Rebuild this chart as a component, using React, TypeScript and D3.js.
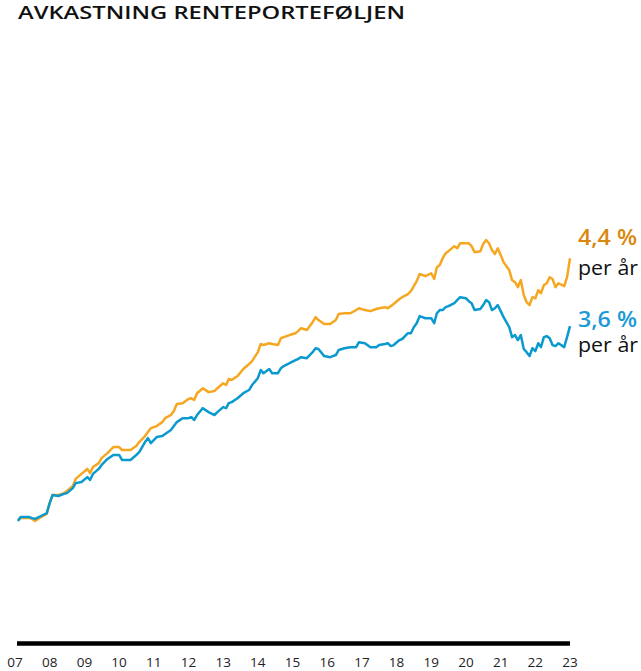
import React from "react";
import * as d3 from "d3";

const dates = [
  "2007-02", "2007-03", "2007-06", "2007-07", "2007-08", "2007-10", "2007-12", "2008-01", "2008-02", "2008-04",
  "2008-06", "2008-07", "2008-09", "2008-10", "2008-12", "2009-02", "2009-03", "2009-04", "2009-06", "2009-07",
  "2009-09", "2009-11", "2010-01", "2010-02", "2010-05", "2010-07", "2010-08", "2010-10", "2010-11", "2010-12",
  "2011-02", "2011-04", "2011-05", "2011-07", "2011-08", "2011-09", "2011-11", "2012-01", "2012-02", "2012-03",
  "2012-04", "2012-06", "2012-08", "2012-10", "2012-11", "2013-01", "2013-02", "2013-03", "2013-04", "2013-06",
  "2013-08", "2013-10", "2013-11", "2014-01", "2014-02", "2014-03", "2014-05", "2014-06", "2014-08", "2014-09",
  "2014-10", "2014-12", "2015-02", "2015-03", "2015-04", "2015-06", "2015-08", "2015-09", "2015-10", "2015-12",
  "2016-02", "2016-04", "2016-05", "2016-07", "2016-09", "2016-11", "2016-12", "2017-02", "2017-04", "2017-06",
  "2017-07", "2017-09", "2017-10", "2017-11", "2017-12", "2018-02", "2018-03", "2018-05", "2018-06", "2018-07",
  "2018-08", "2018-09", "2018-11", "2019-01", "2019-02", "2019-03", "2019-04", "2019-05", "2019-06", "2019-07",
  "2019-09", "2019-10", "2019-11", "2020-01", "2020-02", "2020-03", "2020-04", "2020-06", "2020-07", "2020-08",
  "2020-09", "2020-10", "2020-11", "2020-12", "2021-01", "2021-02", "2021-04", "2021-05", "2021-06", "2021-07",
  "2021-08", "2021-09", "2021-10", "2021-11", "2021-12", "2022-01", "2022-02", "2022-03", "2022-04", "2022-05",
  "2022-06", "2022-07", "2022-08", "2022-09", "2022-11", "2022-12", "2023-01",
];

const benchmarkIndex = [
  100.4, 101.1, 101.1, 100.8, 100.0, 101.5, 102.7, 106.8, 109.9, 109.9,
  110.6, 111.4, 113.3, 116.0, 117.9, 119.8, 118.2, 120.5, 122.0, 123.9,
  125.8, 128.1, 128.1, 127.0, 127.0, 128.5, 130.0, 132.3, 133.8, 135.3,
  136.1, 137.6, 139.1, 140.3, 141.8, 144.5, 144.8, 146.4, 146.7, 146.0,
  148.6, 150.5, 149.0, 149.4, 150.5, 152.4, 151.7, 154.0, 153.6, 155.1,
  157.8, 159.7, 160.8, 164.2, 167.3, 166.9, 167.6, 167.3, 166.9, 169.5,
  169.9, 170.7, 171.4, 172.2, 173.3, 172.6, 175.6, 177.5, 176.4, 174.9,
  174.9, 176.4, 178.7, 179.0, 179.0, 180.2, 180.9, 180.2, 179.8, 180.6,
  180.9, 181.3, 180.9, 181.7, 182.5, 184.4, 185.1, 186.3, 187.4, 189.3,
  191.2, 193.9, 193.1, 194.2, 192.0, 196.5, 197.3, 199.9, 201.8, 202.6,
  204.5, 203.7, 205.6, 205.6, 205.6, 204.5, 202.2, 202.6, 205.3, 206.8,
  205.6, 203.0, 201.5, 203.7, 201.1, 198.4, 195.4, 191.6, 190.8, 188.9,
  191.6, 185.9, 183.2, 182.1, 185.1, 184.7, 187.8, 186.6, 189.7, 190.4,
  192.7, 192.0, 188.9, 190.4, 189.3, 192.7, 199.9,
];

const realIndex = [
  100.0, 101.5, 101.5, 101.1, 100.8, 101.9, 103.0, 106.8, 109.9, 109.5,
  110.3, 110.6, 112.5, 114.4, 114.8, 116.7, 115.6, 117.9, 119.8, 121.3,
  123.6, 125.1, 125.1, 123.2, 123.2, 125.1, 126.2, 130.0, 131.5, 129.6,
  131.9, 132.3, 133.1, 134.6, 136.1, 137.6, 139.1, 139.1, 139.5, 138.4,
  140.3, 142.9, 141.4, 140.3, 141.4, 143.3, 142.9, 144.8, 145.2, 146.7,
  148.6, 149.8, 151.7, 154.3, 157.4, 156.2, 157.8, 156.2, 156.2, 158.1,
  158.9, 160.0, 161.2, 161.6, 162.3, 161.9, 164.2, 165.7, 165.4, 162.7,
  162.3, 163.1, 165.0, 165.7, 166.1, 166.1, 168.0, 167.6, 166.1, 166.1,
  166.9, 167.3, 167.6, 166.5, 166.9, 168.8, 169.2, 171.4, 171.4, 173.7,
  175.2, 177.9, 177.1, 177.1, 175.2, 179.0, 180.2, 180.2, 181.3, 181.7,
  182.8, 184.0, 185.1, 184.7, 183.6, 182.8, 180.2, 180.6, 182.1, 184.0,
  183.2, 180.2, 180.9, 182.1, 179.8, 177.5, 173.7, 169.9, 170.7, 168.8,
  170.7, 165.4, 164.2, 162.7, 165.7, 164.6, 167.6, 166.1, 169.9, 170.3,
  169.5, 166.9, 166.5, 167.6, 166.1, 169.9, 174.1,
];

const tickYears = [2007, 2008, 2009, 2010, 2011, 2012, 2013, 2014, 2015, 2016, 2017, 2018, 2019, 2020, 2021, 2022, 2023];

const title = "AVKASTNING RENTEPORTEFØLJEN";
const benchmarkLabel = "4,4 %";
const realLabel = "3,6 %";
const perYear = "per år";

const W = 641;
const H = 671;
const ORANGE = "#F6A722";
const ORANGE_TEXT = "#D9880E";
const BLUE = "#0A9ACF";
const BLUE_TEXT = "#1C9AD6";

export default function App() {
  const parse = d3.timeParse("%Y-%m");
  const x = d3
    .scaleTime()
    .domain([new Date(2007, 0, 1), new Date(2023, 0, 1)])
    .range([15, 570]);
  const y = d3.scaleLinear().domain([100, 200]).range([521, 258]);

  const line = d3
    .line<number>()
    .x((_, i) => x(parse(dates[i]) as Date))
    .y((d) => y(d));

  const font = "'Open Sans', 'DejaVu Sans', sans-serif";

  return (
    <svg
      width={W}
      height={H}
      style={{ position: "absolute", left: 0, top: 0, background: "#fff" }}
    >
      {/* Title */}
      <text
        x={18}
        y={19}
        fontFamily={font}
        fontWeight={600}
        fontSize={18}
        textLength={387}
        lengthAdjust="spacingAndGlyphs"
        fill="#111"
      >
        {title}
      </text>

      {/* Lines */}
      <path d={line(benchmarkIndex) ?? ""} fill="none" stroke={ORANGE} strokeWidth={2.5} strokeLinejoin="round" />
      <path d={line(realIndex) ?? ""} fill="none" stroke={BLUE} strokeWidth={2.5} strokeLinejoin="round" />

      {/* End labels */}
      <text x={578} y={245} fontFamily={font} fontWeight={600} fontSize={21} textLength={59} lengthAdjust="spacingAndGlyphs" fill={ORANGE_TEXT}>
        {benchmarkLabel}
      </text>
      <text x={578} y={275} fontFamily={font} fontSize={20.5} textLength={60} lengthAdjust="spacingAndGlyphs" fill="#111">
        {perYear}
      </text>
      <text x={578} y={327} fontFamily={font} fontWeight={600} fontSize={21} textLength={59} lengthAdjust="spacingAndGlyphs" fill={BLUE_TEXT}>
        {realLabel}
      </text>
      <text x={578} y={352} fontFamily={font} fontSize={20.5} textLength={60} lengthAdjust="spacingAndGlyphs" fill="#111">
        {perYear}
      </text>

      {/* X axis */}
      <line
        x1={x(new Date(2007, 0, 1)) + 2}
        x2={x(new Date(2023, 0, 1))}
        y1={643.5}
        y2={643.5}
        stroke="#000"
        strokeWidth={4.5}
      />
      {tickYears.map((yr) => (
        <text
          key={yr}
          x={x(new Date(yr, 0, 1))}
          y={667}
          textAnchor="middle"
          fontFamily={font}
          fontSize={13.5}
          fill="#222"
        >
          {String(yr % 100).padStart(2, "0")}
        </text>
      ))}
    </svg>
  );
}
